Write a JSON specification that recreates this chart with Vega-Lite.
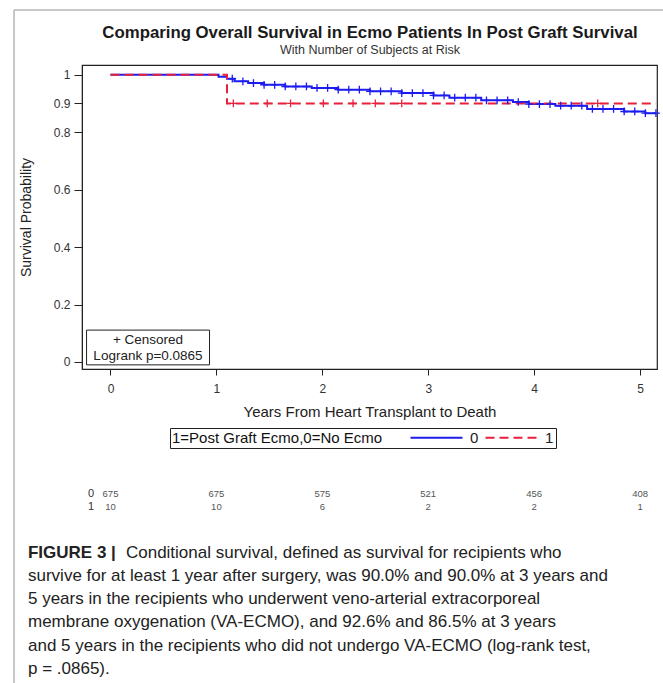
{
  "$schema": "https://vega.github.io/schema/vega-lite/v6.json",
  "autosize": {"type": "none"},
  "width": 575,
  "height": 304,
  "padding": {"left": 82, "top": 65, "right": 6, "bottom": 314},
  "background": "white",
  "config": {
    "view": {"stroke": "#222222", "strokeWidth": 1.2},
    "axis": {
      "grid": false,
      "domainColor": "#222222",
      "tickColor": "#222222",
      "labelFont": "Liberation Sans",
      "labelFontSize": 12,
      "labelColor": "#333333",
      "titleFont": "Liberation Sans",
      "titleFontWeight": "normal",
      "titleColor": "#222222"
    }
  },
  "datasets": {
    "one": [{}],
    "curves": [
      {"group": "0", "time": 0, "surv": 1.0},
      {"group": "0", "time": 1.02, "surv": 0.993},
      {"group": "0", "time": 1.1, "surv": 0.986},
      {"group": "0", "time": 1.17, "surv": 0.977},
      {"group": "0", "time": 1.3, "surv": 0.971},
      {"group": "0", "time": 1.45, "surv": 0.965},
      {"group": "0", "time": 1.65, "surv": 0.959},
      {"group": "0", "time": 1.9, "surv": 0.954},
      {"group": "0", "time": 2.15, "surv": 0.948},
      {"group": "0", "time": 2.45, "surv": 0.942},
      {"group": "0", "time": 2.75, "surv": 0.936},
      {"group": "0", "time": 3.05, "surv": 0.928},
      {"group": "0", "time": 3.2, "surv": 0.92},
      {"group": "0", "time": 3.5, "surv": 0.911},
      {"group": "0", "time": 3.8, "surv": 0.905},
      {"group": "0", "time": 3.95, "surv": 0.898},
      {"group": "0", "time": 4.2, "surv": 0.892},
      {"group": "0", "time": 4.5, "surv": 0.881},
      {"group": "0", "time": 4.85, "surv": 0.872},
      {"group": "0", "time": 5.05, "surv": 0.866},
      {"group": "0", "time": 5.15, "surv": 0.866},
      {"group": "1", "time": 0, "surv": 1.0},
      {"group": "1", "time": 1.1, "surv": 0.9},
      {"group": "1", "time": 5.15, "surv": 0.9}
    ],
    "censor": [
      {"group": "0", "time": 1.15, "surv": 0.986},
      {"group": "0", "time": 1.25, "surv": 0.977},
      {"group": "0", "time": 1.35, "surv": 0.971},
      {"group": "0", "time": 1.45, "surv": 0.965},
      {"group": "0", "time": 1.55, "surv": 0.965},
      {"group": "0", "time": 1.65, "surv": 0.959},
      {"group": "0", "time": 1.75, "surv": 0.959},
      {"group": "0", "time": 1.85, "surv": 0.959},
      {"group": "0", "time": 1.95, "surv": 0.954},
      {"group": "0", "time": 2.05, "surv": 0.954},
      {"group": "0", "time": 2.15, "surv": 0.948},
      {"group": "0", "time": 2.25, "surv": 0.948},
      {"group": "0", "time": 2.35, "surv": 0.948},
      {"group": "0", "time": 2.45, "surv": 0.942},
      {"group": "0", "time": 2.55, "surv": 0.942},
      {"group": "0", "time": 2.65, "surv": 0.942},
      {"group": "0", "time": 2.75, "surv": 0.936},
      {"group": "0", "time": 2.85, "surv": 0.936},
      {"group": "0", "time": 2.95, "surv": 0.936},
      {"group": "0", "time": 3.05, "surv": 0.928},
      {"group": "0", "time": 3.15, "surv": 0.928},
      {"group": "0", "time": 3.25, "surv": 0.92},
      {"group": "0", "time": 3.35, "surv": 0.92},
      {"group": "0", "time": 3.45, "surv": 0.92},
      {"group": "0", "time": 3.55, "surv": 0.911},
      {"group": "0", "time": 3.65, "surv": 0.911},
      {"group": "0", "time": 3.75, "surv": 0.911},
      {"group": "0", "time": 3.85, "surv": 0.905},
      {"group": "0", "time": 3.95, "surv": 0.898},
      {"group": "0", "time": 4.05, "surv": 0.898},
      {"group": "0", "time": 4.15, "surv": 0.898},
      {"group": "0", "time": 4.25, "surv": 0.892},
      {"group": "0", "time": 4.35, "surv": 0.892},
      {"group": "0", "time": 4.45, "surv": 0.892},
      {"group": "0", "time": 4.55, "surv": 0.881},
      {"group": "0", "time": 4.65, "surv": 0.881},
      {"group": "0", "time": 4.75, "surv": 0.881},
      {"group": "0", "time": 4.85, "surv": 0.872},
      {"group": "0", "time": 4.95, "surv": 0.872},
      {"group": "0", "time": 5.05, "surv": 0.866},
      {"group": "0", "time": 5.15, "surv": 0.866},
      {"group": "1", "time": 1.16, "surv": 0.9},
      {"group": "1", "time": 1.48, "surv": 0.9},
      {"group": "1", "time": 1.7, "surv": 0.9},
      {"group": "1", "time": 2.01, "surv": 0.9},
      {"group": "1", "time": 2.29, "surv": 0.9},
      {"group": "1", "time": 2.5, "surv": 0.9},
      {"group": "1", "time": 2.75, "surv": 0.9},
      {"group": "1", "time": 4.6, "surv": 0.9}
    ],
    "risk": [
      {"group": "0", "time": 0, "n": 675},
      {"group": "0", "time": 1, "n": 675},
      {"group": "0", "time": 2, "n": 575},
      {"group": "0", "time": 3, "n": 521},
      {"group": "0", "time": 4, "n": 456},
      {"group": "0", "time": 5, "n": 408},
      {"group": "1", "time": 0, "n": 10},
      {"group": "1", "time": 1, "n": 10},
      {"group": "1", "time": 2, "n": 6},
      {"group": "1", "time": 3, "n": 2},
      {"group": "1", "time": 4, "n": 2},
      {"group": "1", "time": 5, "n": 1}
    ]
  },
  "layer": [
    {
      "data": {"name": "curves"},
      "mark": {"type": "line", "interpolate": "step-after", "strokeWidth": 2},
      "encoding": {
        "x": {
          "field": "time", "type": "quantitative",
          "scale": {"domain": [-0.269, 5.16], "nice": false, "zero": false},
          "axis": {"values": [0, 1, 2, 3, 4, 5], "title": "Years From Heart Transplant to Death", "titleFontSize": 15, "tickSize": 6, "labelPadding": 8, "titlePadding": 10, "format": "d"}
        },
        "y": {
          "field": "surv", "type": "quantitative",
          "scale": {"domain": [-0.0244, 1.0338], "nice": false, "zero": false},
          "axis": {"values": [0, 0.2, 0.4, 0.6, 0.8, 0.9, 1], "title": "Survival Probability", "titleFontSize": 14, "tickSize": 8, "labelPadding": 4, "titlePadding": 20, "format": "~g"}
        },
        "color": {
          "field": "group", "type": "nominal",
          "scale": {"domain": ["0", "1"], "range": ["#1c1cf0", "#e8203c"]},
          "legend": {
            "title": "1=Post Graft Ecmo,0=No Ecmo",
            "orient": "none", "legendX": 88, "legendY": 363,
            "direction": "horizontal",
            "titleOrient": "left", "titleAnchor": "middle", "titleBaseline": "middle", "titleLimit": 400,
            "titleFont": "Liberation Sans", "titleFontSize": 15, "titleFontWeight": "normal", "titleColor": "#111111",
            "titlePadding": 46,
            "labelFont": "Liberation Sans", "labelFontSize": 15, "labelColor": "#222222",
            "symbolType": "M-4,0H4", "symbolSize": 169, "symbolStrokeWidth": 2,
            "columnPadding": 2, "labelOffset": 26,
            "strokeColor": "#222222", "padding": 2
          }
        },
        "strokeDash": {
          "field": "group", "type": "nominal",
          "scale": {"domain": ["0", "1"], "range": [[1, 0], [9, 5]]},
          "legend": {
            "title": "1=Post Graft Ecmo,0=No Ecmo",
            "orient": "none", "legendX": 88, "legendY": 363,
            "direction": "horizontal",
            "titleOrient": "left", "titleAnchor": "middle", "titleBaseline": "middle", "titleLimit": 400,
            "titleFont": "Liberation Sans", "titleFontSize": 15, "titleFontWeight": "normal", "titleColor": "#111111",
            "titlePadding": 46,
            "labelFont": "Liberation Sans", "labelFontSize": 15, "labelColor": "#222222",
            "symbolType": "M-4,0H4", "symbolSize": 169, "symbolStrokeWidth": 2,
            "columnPadding": 2, "labelOffset": 26,
            "strokeColor": "#222222", "padding": 2
          }
        }
      }
    },
    {
      "data": {"name": "censor"},
      "transform": [{"filter": "datum.group == '0'"}],
      "mark": {"type": "point", "shape": "M-1,0H1M0,-1V1", "filled": false, "color": "#1c1cf0", "strokeWidth": 1.3, "size": 60, "opacity": 1},
      "encoding": {"x": {"field": "time", "type": "quantitative"}, "y": {"field": "surv", "type": "quantitative"}}
    },
    {
      "data": {"name": "censor"},
      "transform": [{"filter": "datum.group == '1'"}],
      "mark": {"type": "point", "shape": "M-1,0H1M0,-1V1", "filled": false, "color": "#e8203c", "strokeWidth": 1.3, "size": 60, "opacity": 1},
      "encoding": {"x": {"field": "time", "type": "quantitative"}, "y": {"field": "surv", "type": "quantitative"}}
    },
    {
      "data": {"name": "one"},
      "mark": {"type": "rect", "fill": "white", "stroke": "#222222", "strokeWidth": 1},
      "encoding": {"x": {"datum": -0.226}, "x2": {"datum": 0.935}, "y": {"datum": 0.111}, "y2": {"datum": -0.01}}
    },
    {
      "data": {"name": "one"},
      "mark": {"type": "text", "text": "+ Censored", "font": "Liberation Sans", "fontSize": 13.5, "color": "#222222", "align": "center", "baseline": "middle"},
      "encoding": {"x": {"datum": 0.354}, "y": {"datum": 0.077}}
    },
    {
      "data": {"name": "one"},
      "mark": {"type": "text", "text": "Logrank p=0.0865", "font": "Liberation Sans", "fontSize": 13.5, "color": "#222222", "align": "center", "baseline": "middle"},
      "encoding": {"x": {"datum": 0.354}, "y": {"datum": 0.021}}
    },
    {
      "data": {"name": "risk"},
      "transform": [{"filter": "datum.group == '0'"}],
      "mark": {"type": "text", "font": "Liberation Sans", "fontSize": 9.5, "color": "#555555", "align": "center", "baseline": "middle"},
      "encoding": {"x": {"field": "time", "type": "quantitative"}, "y": {"datum": -0.46}, "text": {"field": "n"}}
    },
    {
      "data": {"name": "risk"},
      "transform": [{"filter": "datum.group == '1'"}],
      "mark": {"type": "text", "font": "Liberation Sans", "fontSize": 9.5, "color": "#555555", "align": "center", "baseline": "middle"},
      "encoding": {"x": {"field": "time", "type": "quantitative"}, "y": {"datum": -0.505}, "text": {"field": "n"}}
    },
    {
      "data": {"name": "one"},
      "mark": {"type": "text", "text": "0", "font": "Liberation Sans", "fontSize": 11, "color": "#333333", "align": "center", "baseline": "middle"},
      "encoding": {"x": {"datum": -0.184}, "y": {"datum": -0.46}}
    },
    {
      "data": {"name": "one"},
      "mark": {"type": "text", "text": "1", "font": "Liberation Sans", "fontSize": 11, "color": "#333333", "align": "center", "baseline": "middle"},
      "encoding": {"x": {"datum": -0.184}, "y": {"datum": -0.505}}
    },
    {
      "data": {"name": "one"},
      "mark": {"type": "text", "text": "Comparing Overall Survival in Ecmo Patients In Post Graft Survival", "font": "Liberation Sans", "fontSize": 16.8, "fontWeight": "bold", "color": "#1a1a1a", "align": "center", "baseline": "middle"},
      "encoding": {"x": {"datum": 2.45}, "y": {"datum": 1.1452}}
    },
    {
      "data": {"name": "one"},
      "mark": {"type": "text", "text": "With Number of Subjects at Risk", "font": "Liberation Sans", "fontSize": 12.5, "color": "#333333", "align": "center", "baseline": "middle"},
      "encoding": {"x": {"datum": 2.45}, "y": {"datum": 1.0845}}
    },
    {
      "data": {"name": "one"},
      "mark": {"type": "rule", "color": "#b5b5b5", "strokeWidth": 1.5},
      "encoding": {"x": {"datum": -0.911}, "y": {"datum": 1.2252}, "y2": {"datum": -1.13}}
    },
    {
      "data": {"name": "one"},
      "mark": {"type": "rule", "color": "#b5b5b5", "strokeWidth": 1.5},
      "encoding": {"x": {"datum": -0.911}, "x2": {"datum": 5.3}, "y": {"datum": 1.2252}}
    },
    {
      "data": {"name": "one"},
      "mark": {"type": "text", "text": "FIGURE 3 |", "font": "Liberation Sans", "fontSize": 17, "fontWeight": "bold", "color": "#222222", "align": "left", "baseline": "middle"},
      "encoding": {"x": {"datum": -0.779}, "y": {"datum": -0.664}}
    },
    {
      "data": {"name": "one"},
      "mark": {"type": "text", "text": "Conditional survival, defined as survival for recipients who", "font": "Liberation Sans", "fontSize": 17, "color": "#222222", "align": "left", "baseline": "middle"},
      "encoding": {"x": {"datum": 0.146}, "y": {"datum": -0.664}}
    },
    {
      "data": {"name": "one"},
      "mark": {"type": "text", "text": ["survive for at least 1 year after surgery, was 90.0% and 90.0% at 3 years and", "5 years in the recipients who underwent veno-arterial extracorporeal", "membrane oxygenation (VA-ECMO), and 92.6% and 86.5% at 3 years", "and 5 years in the recipients who did not undergo VA-ECMO (log-rank test,", "p = .0865)."], "lineHeight": 23.4, "font": "Liberation Sans", "fontSize": 17, "color": "#222222", "align": "left", "baseline": "top"},
      "encoding": {"x": {"datum": -0.779}, "y": {"datum": -0.716}}
    }
  ]
}
